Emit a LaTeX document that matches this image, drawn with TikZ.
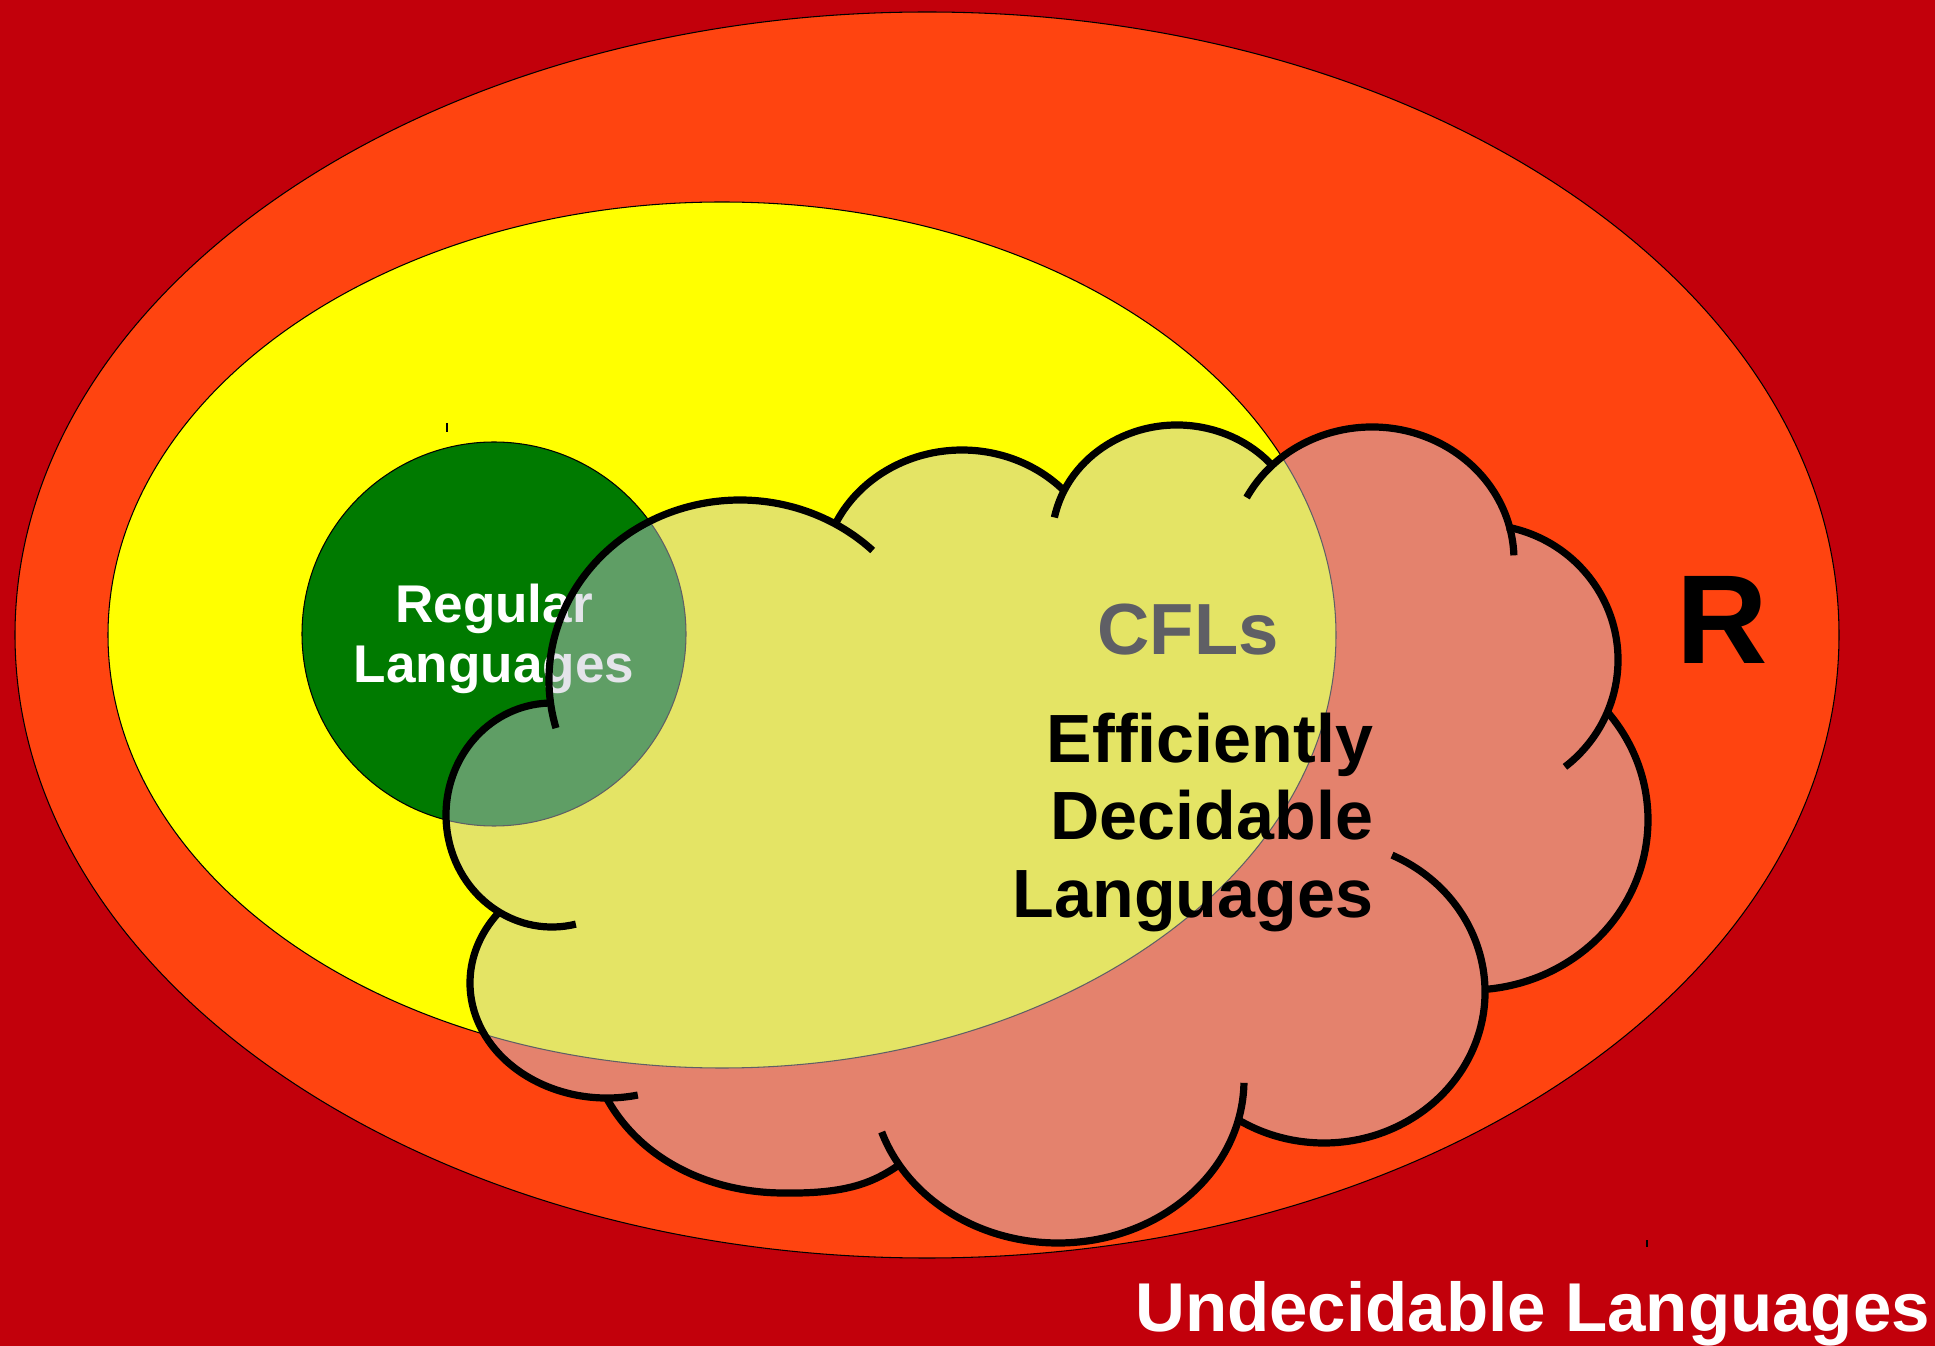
\documentclass[tikz,border=0pt]{standalone}
\usepackage{fontspec}
\setmainfont{Liberation Sans}[Ligatures=NoCommon]
\definecolor{bgred}{RGB}{194,0,11}
\definecolor{orred}{RGB}{255,68,16}
\definecolor{yel}{RGB}{255,255,0}
\definecolor{grn}{RGB}{0,122,0}
\definecolor{cloudc}{RGB}{199,199,212}
\newcommand{\lobearc}[6]{\draw[cloudline] ([shift={(#5:#3 and #4)}]#1,#2) arc[start angle=#5,end angle=#6,x radius=#3,y radius=#4];}
\begin{document}
\begin{tikzpicture}[x=0.01cm,y=-0.01cm,
  thinborder/.style={draw=black,line width=0.3pt},
  cloudline/.style={draw=black,line width=2.05pt},
  cloudfill/.style={fill=cloudc,fill opacity=0.48},
  lab/.style={inner sep=0pt,outer sep=0pt,font=\bfseries}]
\fill[bgred] (0,0) rectangle (1935,1346);
\useasboundingbox (0,0) rectangle (1935,1346);
% nested sets
\filldraw[fill=orred,thinborder] (927,635) ellipse [x radius=912,y radius=623];
\filldraw[fill=yel,thinborder] (722,635) ellipse [x radius=614,y radius=433];
\filldraw[fill=grn,thinborder] (494,634) circle [radius=192];
% labels under the cloud
\node[lab,text=white,anchor=base,font=\bfseries\fontsize{15.1pt}{17pt}\selectfont] (reg1) at (494,623) {Regular};
\node[lab,text=white,anchor=base,font=\bfseries\fontsize{15.1pt}{17pt}\selectfont] (reg2) at (494,683) {Languages};
\node[lab,text=black,anchor=base,font=\bfseries\fontsize{20.6pt}{24pt}\selectfont] (cfl) at (1188,655) {CFLs};
% tiny marks
\draw[black,line width=0.5pt] (447,423) -- (447,432);
\draw[black,line width=0.5pt] (1647,1240) -- (1647,1247);
% cloud fill (single nonzero path)
\fill[cloudfill] (551,703) -- (835,524) -- (1063,490) -- (1272,466) -- (1507,527) -- (1608,713) -- (1482,990) -- (1239,1120) -- (899,1165)
  .. controls (874,1182) and (848,1194) .. (784,1193)
  .. controls (710,1193) and (640,1160) .. (606,1097) -- (499,912) -- cycle
  (931,680) arc[start angle=0,end angle=360,x radius=191,y radius=180]
  (1102,579) arc[start angle=0,end angle=360,x radius=140,y radius=129]
  (1302,540) arc[start angle=0,end angle=360,x radius=125,y radius=115]
  (1514,560) arc[start angle=0,end angle=360,x radius=142,y radius=133]
  (1618,660) arc[start angle=0,end angle=360,x radius=138,y radius=135.6]
  (1648,820) arc[start angle=0,end angle=360,x radius=178,y radius=170]
  (1485,992) arc[start angle=0,end angle=360,x radius=161,y radius=151]
  (1244,1080) arc[start angle=0,end angle=360,x radius=186,y radius=163]
  (744,983) arc[start angle=0,end angle=360,x radius=137,y radius=115]
  (658,815) arc[start angle=0,end angle=360,x radius=106,y radius=112];
% cloud outline
\lobearc{740}{680}{191}{180}{164.5}{314}
\lobearc{962}{579}{140}{129}{205.2}{316.4}
\lobearc{1177}{540}{125}{115}{191.3}{319.7}
\lobearc{1372}{560}{142}{133}{208}{358}
\lobearc{1480}{660}{138}{135.6}{281.3}{412}
\lobearc{1470}{820}{178}{170}{-39.2}{86}
\lobearc{1324}{992}{161}{151}{-65}{122}
\lobearc{1058}{1080}{186}{163}{1}{161.4}
\draw[cloudline] (606,1097) .. controls (640,1160) and (710,1193) .. (784,1193)
  .. controls (848,1194) and (874,1182) .. (899,1165);
\lobearc{607}{983}{137}{115}{77}{218}
\lobearc{552}{815}{106}{112}{77}{270}
% labels over the cloud
\node[lab,text=black,anchor=base east,font=\bfseries\fontsize{19.4pt}{22pt}\selectfont] (ed1) at (1373,763) {Efficiently};
\node[lab,text=black,anchor=base east,font=\bfseries\fontsize{19.4pt}{22pt}\selectfont] (ed2) at (1373,840) {Decidable};
\node[lab,text=black,anchor=base east,font=\bfseries\fontsize{19.4pt}{22pt}\selectfont] (ed3) at (1373,918) {Languages};
\node[lab,text=black,anchor=base,font=\bfseries\fontsize{36pt}{40pt}\selectfont] (rlab) at (1722,664) {R};
\node[lab,text=white,anchor=base east,font=\bfseries\fontsize{19.65pt}{22pt}\selectfont] (undec) at (1930,1331) {Undecidable Languages};
\end{tikzpicture}
\end{document}
